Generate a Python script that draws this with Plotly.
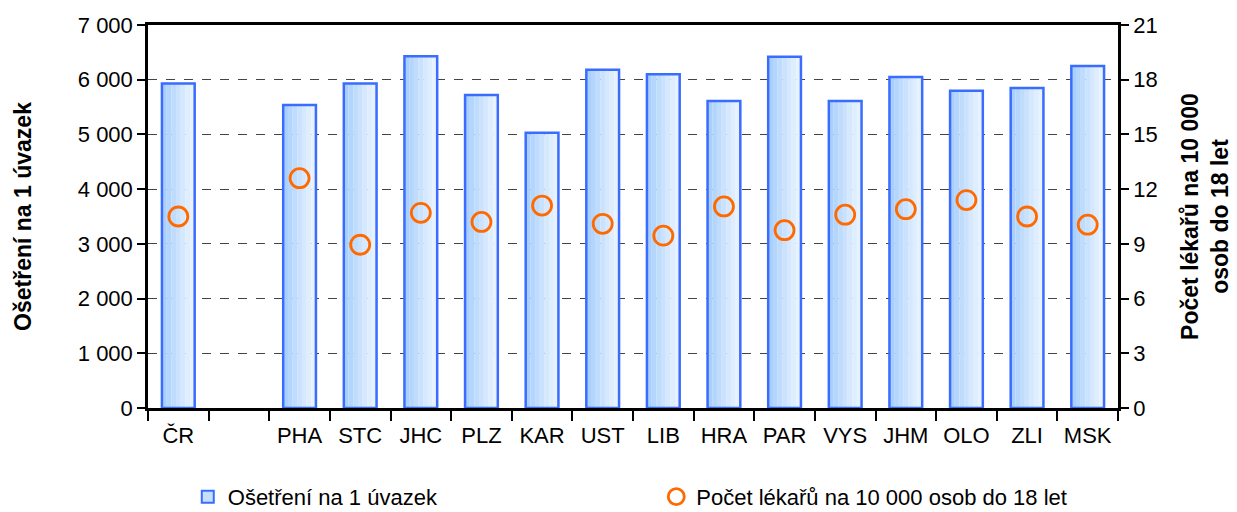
import plotly.graph_objects as go

categories = ["ČR", " ", "PHA", "STC", "JHC", "PLZ", "KAR", "UST", "LIB", "HRA", "PAR", "VYS", "JHM", "OLO", "ZLI", "MSK"]
osetreni = [5930, None, 5540, 5930, 6430, 5720, 5030, 6180, 6100, 5610, 6420, 5610, 6050, 5800, 5850, 6250]
lekari = [10.5, None, 12.6, 8.95, 10.7, 10.2, 11.1, 10.1, 9.45, 11.05, 9.75, 10.6, 10.9, 11.4, 10.5, 10.05]

name_bar = "Ošetření na 1 úvazek"
name_pt = "Počet lékařů na 10 000 osob do 18 let"

FONT = "Liberation Sans Narrow, Arial Narrow, Liberation Sans, Arial, sans-serif"

fig = go.Figure()

# gradient-like bar fill using overlaid strips
W = 0.54
grad = ["#a9d0fd", "#b4d6fd", "#bfdcfd", "#cae2fe", "#d5e8fe", "#dfeefe", "#e8f2ff"]
n = len(grad)
for i, c in enumerate(grad):
    fig.add_trace(go.Bar(
        x=categories, y=osetreni, width=W / n + 0.002, offset=-W / 2 + i * W / n,
        marker=dict(color=c, line=dict(width=0)), showlegend=False, hoverinfo="skip",
    ))
# outline bar
fig.add_trace(go.Bar(
    x=categories, y=osetreni, width=W, offset=-W / 2, name=name_bar,
    marker=dict(color="rgba(0,0,0,0)", line=dict(color="#3a6cff", width=2.5)),
    showlegend=False,
))
# legend proxy
fig.add_trace(go.Bar(
    x=[categories[0]], y=[None], name=name_bar, legend="legend",
    marker=dict(color="#c5dffd", line=dict(color="#3a6cff", width=2)),
))
fig.add_trace(go.Scatter(
    x=categories, y=lekari, name=name_pt, yaxis="y2", mode="markers", legend="legend2",
    marker=dict(symbol="circle-open", size=19, color="#ff6a00", line=dict(width=2.8, color="#ff6a00")),
))

fig.update_layout(
    width=1237, height=512,
    margin=dict(l=140, r=127, t=17, b=112, autoexpand=False),
    paper_bgcolor="white", plot_bgcolor="white",
    barmode="overlay",
    font=dict(family=FONT, size=22, color="black"),
    legend=dict(orientation="h", x=0.041, xanchor="left", y=-0.232, yanchor="middle",
                itemsizing="constant", font=dict(size=22)),
    legend2=dict(orientation="h", x=0.524, xanchor="left", y=-0.232, yanchor="middle",
                 itemsizing="trace", font=dict(size=22)),
    xaxis=dict(type="category", tickson="boundaries", ticks="outside", ticklen=10, tickwidth=2,
               tickcolor="black", showline=True, linecolor="black", linewidth=2.5, mirror=True,
               showgrid=False, range=[-0.5, 15.5], tickfont=dict(size=22), ticklabelstandoff=6),
    yaxis=dict(range=[0, 7000], dtick=1000, tickformat=",d", ticks="outside", ticklen=8, tickwidth=2,
               tickcolor="black", showline=True, linecolor="black", linewidth=2.5,
               showgrid=True, gridcolor="#444444", griddash="dash", gridwidth=1,
               zeroline=False,
               title=dict(text="<b>Ošetření na 1 úvazek</b>", font=dict(size=23), standoff=40)),
    yaxis2=dict(range=[0, 21], dtick=3, overlaying="y", side="right", ticks="outside", ticklen=8,
                tickwidth=2, tickcolor="black", showline=True, linecolor="black", linewidth=2.5,
                showgrid=False, zeroline=False,
                title=dict(text="<b>Počet lékařů na 10 000<br>osob do 18 let</b>", font=dict(size=23), standoff=26)),
    separators=". ",
)

fig.write_html("out.html")
